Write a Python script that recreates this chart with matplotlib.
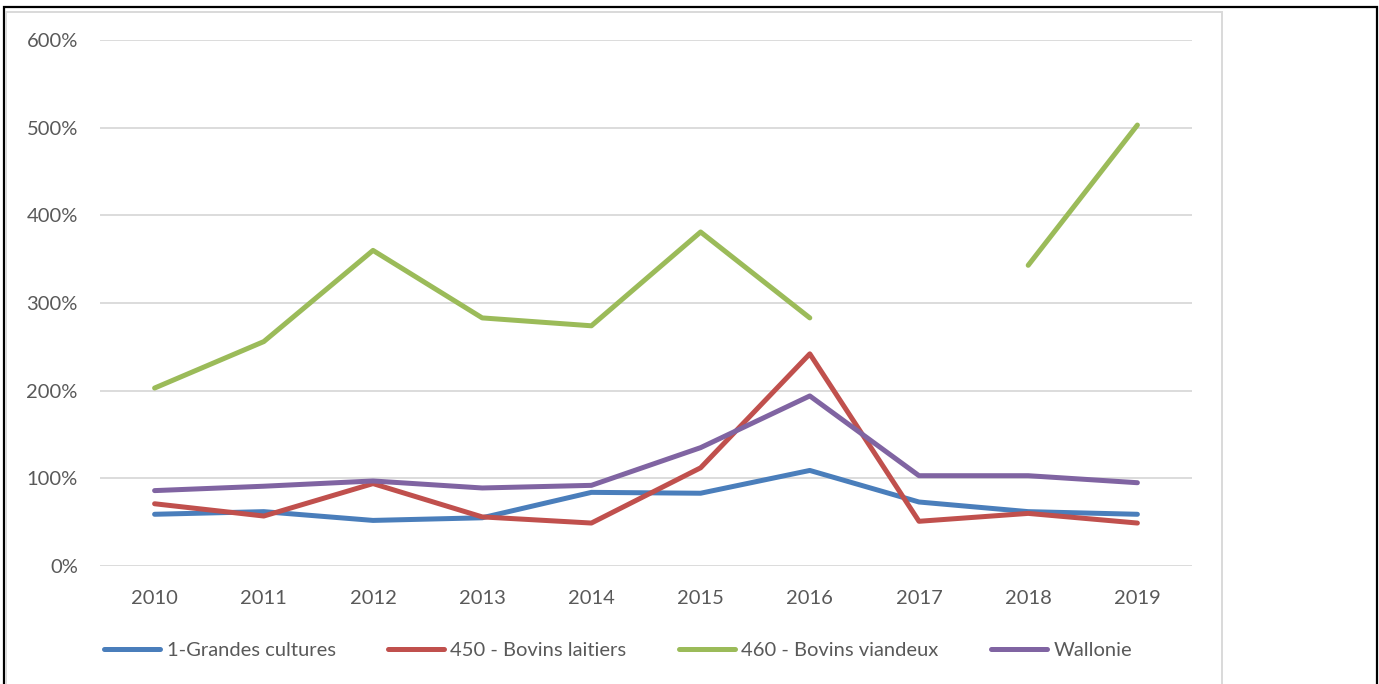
import numpy as np
import matplotlib
matplotlib.use("Agg")
import matplotlib.pyplot as plt
from matplotlib.patches import Rectangle
from matplotlib.ticker import FuncFormatter

years = ["2010", "2011", "2012", "2013", "2014", "2015", "2016", "2017", "2018", "2019"]

# ratios in percent
grandes_cultures = [59, 62, 52, 55, 84, 83, 109, 73, 62, 59]
bovins_laitiers = [71, 57, 94, 56, 49, 112, 242, 51, 60, 49]
bovins_viandeux = [203, 256, 360, 283, 274, 381, 283, np.nan, 343, 503]
wallonie = [86, 91, 97, 89, 92, 135, 194, 103, 103, 95]

labels = ["1-Grandes cultures", "450 - Bovins laitiers", "460 - Bovins viandeux", "Wallonie"]
colors = ["#4A7EBB", "#C0504D", "#9BBB59", "#8064A2"]

plt.rcParams['font.family'] = ['Lato', 'DejaVu Sans']
txt = "#595959"

W, H = 1379, 684
fig = plt.figure(figsize=(W / 100, H / 100), dpi=100)

# outer frame and chart area border
fig.patches.append(Rectangle((4 / W, -0.05), 1373 / W, (H - 7) / H + 0.05,
                             transform=fig.transFigure, fill=False,
                             edgecolor="black", linewidth=1.6))
fig.patches.append(Rectangle((6 / W, -0.05), 1216 / W, (H - 12) / H + 0.05,
                             transform=fig.transFigure, fill=False,
                             edgecolor="#d9d9d9", linewidth=1.4))

ax = fig.add_axes([100 / W, (H - 566) / H, 1092 / W, 526 / H])
x = np.arange(len(years))
series = [grandes_cultures, bovins_laitiers, bovins_viandeux, wallonie]
for vals, lab, col in zip(series, labels, colors):
    ax.plot(x, np.array(vals, dtype=float) / 100, color=col, lw=3.6,
            label=lab, solid_capstyle="round", solid_joinstyle="round")

ax.set_xlim(-0.5, len(years) - 0.5)
ax.set_ylim(0, 6)
ax.set_yticks(np.arange(0, 7))
ax.yaxis.set_major_formatter(FuncFormatter(lambda v, p: f"{int(round(v * 100))}%"))
ax.set_xticks(x)
ax.set_xticklabels(years)
ax.grid(axis="y", color="#d9d9d9", lw=1.3)
ax.set_axisbelow(True)
for s in ax.spines.values():
    s.set_visible(False)
ax.tick_params(axis="both", length=0, labelsize=14.5, labelcolor=txt)
ax.tick_params(axis="y", pad=16)
ax.tick_params(axis="x", pad=17)

fig.legend(loc="center", bbox_to_anchor=(618 / W, (H - 650) / H), ncol=4,
           frameon=False, fontsize=14.5, labelcolor=txt, handlelength=2.8,
           handletextpad=0.3, columnspacing=2.6)

fig.savefig("out.png", dpi=100)
